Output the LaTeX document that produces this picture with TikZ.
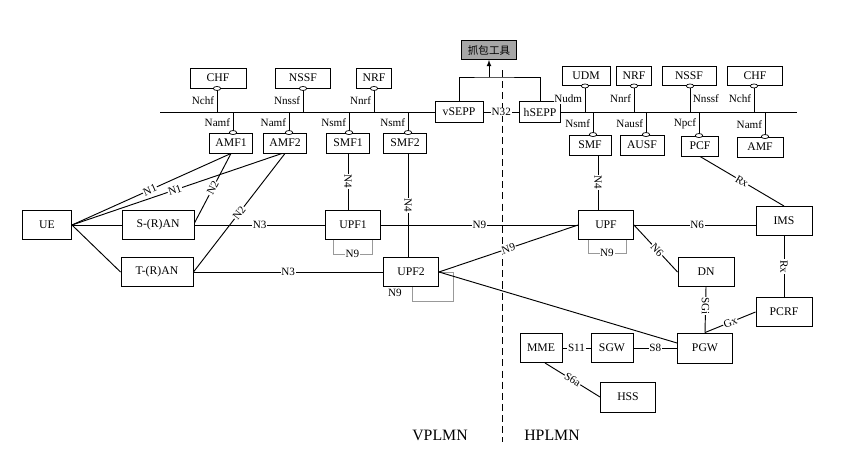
\documentclass[tikz,border=0pt]{standalone}
\usepackage{fontspec}
\setmainfont{Liberation Serif}
\newfontfamily\cjk{Noto Sans CJK SC}

\begin{document}
\begin{tikzpicture}[x=0.03cm,y=-0.03cm,line width=0.8pt,
  nf/.style={draw,fill=white,inner sep=0pt,font=\fontsize{10}{12}\selectfont},
  lab/.style={fill=white,inner sep=0.6pt,font=\fontsize{9.5}{11}\selectfont},
  loop9/.style={draw=black!40,line width=0.6pt}]
 \def\px{0.03cm}
 \useasboundingbox (0,0) rectangle (865,473);

% network functions: name/x/y/width/height/text
\foreach \nm/\cx/\cy/\w/\h/\txt in {chfL/218/78/56/20/CHF, nssfL/303/78/55/20/NSSF, nrfL/374/78/35/20/NRF,
   amf1/231/143/43/20/AMF1, amf2/285/143/43/20/AMF2, smf1/348/143/43/20/SMF1, smf2/405/143/43/20/SMF2,
   vsepp/459/112/48/21/vSEPP, hsepp/540/112/41/21/hSEPP,
   udm/586/76/48/19/UDM, nrfR/634/76/35/19/NRF, nssfR/689/76/54/19/NSSF, chfR/755/76/55/19/CHF,
   smfR/590/145/42/20/SMF, ausf/642/145/44/20/AUSF, pcf/700/146/37/20/PCF, amfR/760/147/46/20/AMF,
   ue/47/225/49/29/UE, sran/158/225/72/29/S-(R)AN, tran/157/272/72/29/T-(R)AN,
   upf1/353/225/55/29/UPF1, upf2/411/272/55/29/UPF2, upf/606/225/55/29/UPF,
   ims/784/221/56/29/IMS, dn/706/272/56/29/DN, pcrf/784/312/56/29/PCRF,
   mme/541/348/42/29/MME, sgw/612/348/42/29/SGW, pgw/705/348/55/30/PGW, hss/628/397/55/30/HSS}{
  \node[nf,minimum width=\w*\px,minimum height=\h*\px] (\nm) at (\cx,\cy) {\txt};
}
\node[nf,fill=black!35,minimum width=55*\px,minimum height=19*\px,font=\cjk\fontsize{9}{11}\selectfont] (tool) at (489,50) {抓包工具};

\node[font=\fontsize{13.5}{16}\selectfont] (vp) at (440,435) {VPLMN};
\node[font=\fontsize{13.5}{16}\selectfont] (hp) at (552,435) {HPLMN};

%%%%%%%%%%%%%%%%%%%%%%%% border between the two networks
\coordinate (dtop) at (502,70);
\coordinate (dbot) at (502,442);
\draw[dash pattern=on 6pt off 3.5pt] (dtop) -- (dbot);

%%%%%%%%%%%%%%%%%%%%%%%% service bus
\coordinate (busL) at (160,112);
\coordinate (busR) at (797,112);
\draw (busL) -- (vsepp.west);
\draw (vsepp.east) -- node[lab] {N32} (hsepp.west);
\draw (hsepp.east) -- (busR);

\coordinate (tj) at (489,77);
\draw (vsepp.north) |- (tj) -| (hsepp.north);
\draw[-latex] (tj) -- (tool.south);

% functions above the bus
\foreach \nm/\dx/\lb/\sd in {chfL/-1/Nchf/left, nssfL/0/Nnssf/left, nrfL/0/Nnrf/left, udm/-1/Nudm/left,
   nrfR/0/Nnrf/left, nssfR/1/Nnssf/right, chfR/-1/Nchf/left}{
  \draw ([xshift=\dx*\px]\nm.south) coordinate (s) -- (s |- busL) node[lab,midway,\sd=1.5pt] {\lb};
  \draw[fill=white,line width=0.6pt] (s) ellipse (3.7 and 2);
}
% functions below the bus
\foreach \nm/\dx/\lb in {amf1/2/Namf, amf2/4/Namf, smf1/1/Nsmf, smf2/3/Nsmf,
   smfR/3/Nsmf, ausf/4/Nausf, pcf/-1/Npcf, amfR/5/Namf}{
  \draw ([xshift=\dx*\px]\nm.north) coordinate (s) -- (s |- busL) node[lab,midway,left=1.5pt] {\lb};
  \draw[fill=white,line width=0.6pt] (s) ellipse (3.7 and 2);
}

%%%%%%%%%%%%%%%%%%%%%%%% N9 loops
\draw[loop9] ([xshift=8*\px]upf1.south west) |- node[lab,pos=0.75] {N9} ([xshift=-9*\px,yshift=-14*\px]upf1.south east) -- ([xshift=-9*\px]upf1.south east);
\draw[loop9] ([xshift=10*\px]upf.south west) |- node[lab,pos=0.75] {N9} ([xshift=-8*\px,yshift=-13*\px]upf.south east) -- ([xshift=-8*\px]upf.south east);
\draw[loop9] (upf2.east) -- ++(14,0) |- ([xshift=1*\px,yshift=-14*\px]upf2.south) -- ([xshift=1*\px]upf2.south);
\node[lab] (n9b) at (395,293) {N9};

%%%%%%%%%%%%%%%%%%%%%%%% access side
\draw (ue.east) -- (sran.west);
\draw (ue.east) -- (tran.west);
\draw (ue.east) -- node[lab,sloped,pos=0.49] {N1} (amf1.south);
\draw (ue.east) -- node[lab,sloped,pos=0.49] {N1} ([xshift=-3*\px]amf2.south);
\draw ([yshift=2*\px]sran.east) -- node[lab,sloped] {N2} (amf1.south);
\draw (tran.east) -- node[lab,sloped] {N2} (amf2.south);
\draw (sran.east) -- node[lab] {N3} (upf1.west);
\draw (tran.east) -- node[lab] {N3} (upf2.west);

%%%%%%%%%%%%%%%%%%%%%%%% user plane
\draw (smf1.south) coordinate (a) -- node[lab,rotate=-90] {N4} (a |- upf1.north);
\draw ([xshift=3*\px]smf2.south) coordinate (a) -- node[lab,rotate=-90] {N4} (a |- upf2.north);
\draw ([xshift=8*\px]smfR.south) coordinate (a) -- node[lab,rotate=-90] {N4} (a |- upf.north);
\draw (upf1.east) -- node[lab] {N9} (upf.west);
\draw (upf2.east) -- node[lab,sloped] {N9} (upf.west);
\draw (upf2.east) -- ([yshift=5*\px]pgw.west);

%%%%%%%%%%%%%%%%%%%%%%%% home side
\draw (upf.east) -- node[lab,pos=0.52] {N6} (upf.east -| ims.west);
\draw (upf.east) -- node[lab,sloped,pos=0.53] {N6} (dn.west);
\draw (pcf.south) -- node[lab,sloped] {Rx} (ims.north);
\draw (ims.south) -- node[lab,rotate=-90] {Rx} (pcrf.north);
\draw (dn.south) -- node[lab,rotate=-90,pos=0.42] {SGi} (pgw.north);
\draw (pgw.north) -- node[lab,sloped] {Gx} (pcrf.west);
\draw (mme.east) -- node[lab] {S11} (sgw.west);
\draw (sgw.east) -- node[lab] {S8} (pgw.west);
\draw ([xshift=4*\px]mme.south) -- node[lab,sloped] {S6a} (hss.west);

\end{tikzpicture}
\end{document}
